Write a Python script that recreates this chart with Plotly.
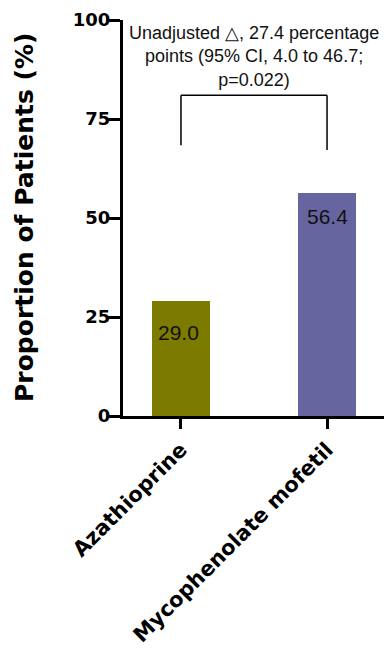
import plotly.graph_objects as go

# Data
categories = ["Azathioprine", "Mycophenolate mofetil"]
proportions = [29.0, 56.4]
y_ticks = [0, 25, 50, 75, 100]
comparison_text = "Unadjusted \u25b3, 27.4 percentage<br>points (95% CI, 4.0 to 46.7;<br>p=0.022)"
bracket_top = 81.0
bracket_feet = [68.4, 67.2]

bar_colors = ["#7d7a00", "#67659f"]
label_shift = [-31, -24]  # pixel offset of value labels below bar tops

fig = go.Figure()
fig.add_trace(go.Bar(
    x=[0, 1],
    y=proportions,
    width=0.4,
    marker=dict(color=bar_colors, line=dict(width=0)),
    hoverinfo="skip",
))

# Value labels inside the bars
for i, v in enumerate(proportions):
    fig.add_annotation(
        x=i, y=v, xref="x", yref="y", text=f"{v:.1f}",
        showarrow=False, yanchor="middle", yshift=label_shift[i], xshift=-2 if i == 0 else 0,
        font=dict(family="Liberation Sans, Arial", size=21, color="#111111"),
    )

# Comparison bracket between the two groups
line_style = dict(color="black", width=1.5)
fig.add_shape(type="line", xref="x", yref="y", x0=0, x1=0, y0=bracket_feet[0], y1=bracket_top, line=line_style)
fig.add_shape(type="line", xref="x", yref="y", x0=1, x1=1, y0=bracket_feet[1], y1=bracket_top, line=line_style)
fig.add_shape(type="line", xref="x", yref="y", x0=0, x1=1, y0=bracket_top, y1=bracket_top, line=line_style)

fig.add_annotation(
    x=0.5, y=bracket_top + 0.7, xref="x", yref="y", text=comparison_text,
    showarrow=False, yanchor="bottom", xanchor="center", align="center",
    font=dict(family="Liberation Sans, Arial", size=18, color="#111111"),
)

# Y-axis title
fig.add_annotation(
    x=0, y=0.5, xref="paper", yref="paper", text="<b>Proportion of Patients (%)</b>",
    textangle=-90, showarrow=False, xanchor="center", yanchor="middle", xshift=-99,
    font=dict(family="DejaVu Sans", size=25, color="black"),
)

fig.update_layout(
    width=384, height=653,
    margin=dict(l=123, r=0, t=20, b=237, autoexpand=False),
    plot_bgcolor="white", paper_bgcolor="white",
    showlegend=False,
    bargap=0,
)
fig.update_xaxes(
    range=[-0.397, 1.39],
    tickmode="array", tickvals=[0, 1], ticktext=[f"<b>{c}</b>" for c in categories],
    tickangle=-45, automargin=False,
    ticks="outside", ticklen=10, tickwidth=3, tickcolor="black",
    showline=True, linewidth=3, linecolor="black",
    showgrid=False, zeroline=False,
    tickfont=dict(family="DejaVu Sans", size=21, color="black"),
)
fig.update_yaxes(
    range=[0, 100], automargin=False,
    tickmode="array", tickvals=y_ticks, ticktext=[f"<b>{t}</b>" for t in y_ticks],
    ticks="outside", ticklen=12, tickwidth=3, tickcolor="black",
    showline=True, linewidth=3, linecolor="black",
    showgrid=False, zeroline=False,
    tickfont=dict(family="DejaVu Sans", size=18, color="black"),
    ticklabelstandoff=-6,
)

fig.write_html("out.html")
